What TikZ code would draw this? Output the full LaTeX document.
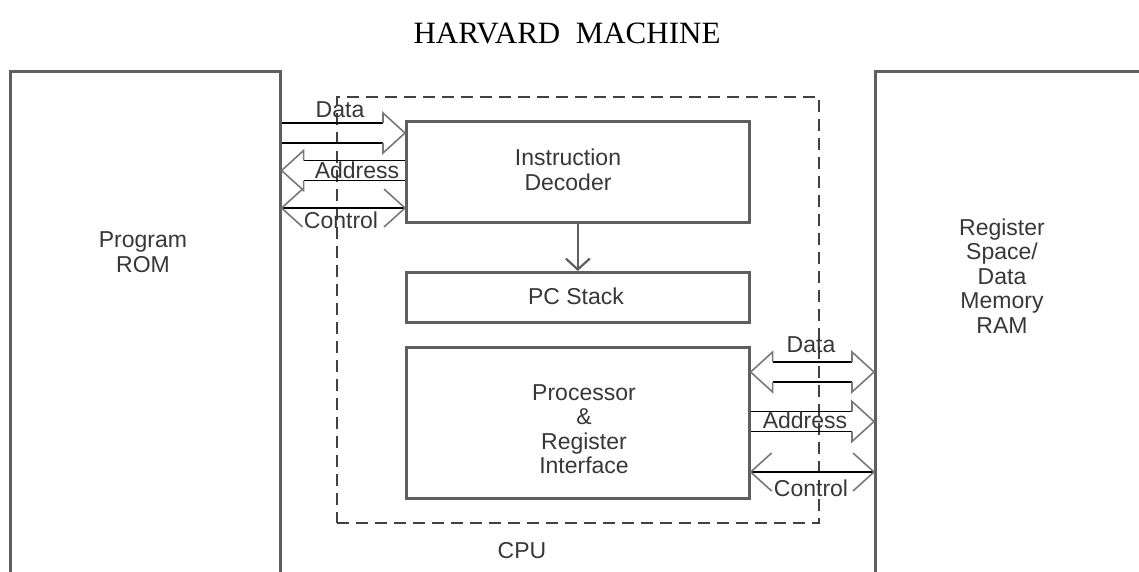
\documentclass[tikz,border=0pt]{standalone}
\usepackage{fontspec}
\setmainfont{Liberation Sans}
\newfontfamily\titlefont{Liberation Serif}
\usetikzlibrary{calc,arrows.meta}

\definecolor{boxline}{RGB}{95,95,95}
\definecolor{headline}{RGB}{120,120,120}
\definecolor{txt}{RGB}{55,55,55}

\tikzset{
  block/.style={draw=boxline, line width=2.6pt, anchor=north west, inner sep=0pt},
  cpubox/.style={draw=black!75, line width=1.8pt, dash pattern=on 12pt off 7pt, anchor=north west, inner sep=0pt},
  lbl/.style={text=txt, align=center, inner sep=0pt, font=\fontsize{23}{24.5}\selectfont},
  shaft/.style={draw=black, line width=1.3pt},
  headln/.style={draw=headline, line width=1.6pt, line join=miter},
  flow/.style={draw=boxline, line width=2.6pt, -{Straight Barb[length=11pt,width=24pt,line width=2.2pt]}},
}

% hollow bus arrows between two named points on the same horizontal line
\newcommand\busRight[2]{%
  \draw[shaft] ($(#1)+(0,-10)$) -- ($(#2)+(-22,-10)$);
  \draw[shaft] ($(#1)+(0,10)$) -- ($(#2)+(-22,10)$);
  \draw[headln] ($(#2)+(-22,-10)$) -- ($(#2)+(-22,-20)$) -- (#2) -- ($(#2)+(-22,20)$) -- ($(#2)+(-22,10)$);
}
\newcommand\busLeft[2]{%
  \draw[shaft] ($(#1)+(22,-10)$) -- ($(#2)+(0,-10)$);
  \draw[shaft] ($(#1)+(22,10)$) -- ($(#2)+(0,10)$);
  \draw[headln] ($(#1)+(22,-10)$) -- ($(#1)+(22,-20)$) -- (#1) -- ($(#1)+(22,20)$) -- ($(#1)+(22,10)$);
}
\newcommand\busBoth[2]{%
  \draw[shaft] ($(#1)+(22,-10)$) -- ($(#2)+(-22,-10)$);
  \draw[shaft] ($(#1)+(22,10)$) -- ($(#2)+(-22,10)$);
  \draw[headln] ($(#1)+(22,-10)$) -- ($(#1)+(22,-20)$) -- (#1) -- ($(#1)+(22,20)$) -- ($(#1)+(22,10)$);
  \draw[headln] ($(#2)+(-22,-10)$) -- ($(#2)+(-22,-20)$) -- (#2) -- ($(#2)+(-22,20)$) -- ($(#2)+(-22,10)$);
}
\newcommand\ctrlBus[2]{%
  \draw[shaft] (#1) -- (#2);
  \draw[headln] ($(#1)+(21,-19)$) -- (#1) -- ($(#1)+(21,19)$);
  \draw[headln] ($(#2)+(-21,-19)$) -- (#2) -- ($(#2)+(-21,19)$);
}

\begin{document}
\begin{tikzpicture}[x=1pt,y=-1pt]
\useasboundingbox (0,0) rectangle (1139,571);

% title
\node (title) [text=black, inner sep=0pt, font=\titlefont\fontsize{31}{31}\selectfont] at (567,33) {HARVARD\ \ MACHINE};

% CPU boundary
\node (cpu) [cpubox, minimum width=482pt, minimum height=426pt] at (336,96) {};
\node (cpulbl) [lbl] at (522,551) {CPU};

% memories (open towards the page edges)
\node (rom) [block, minimum width=270pt, minimum height=540pt] at (9,70) {};
\node (ram) [block, minimum width=300pt, minimum height=540pt] at (874,70) {};
\node (romtxt) [lbl] at (143,252) {Program\\ROM};
\node (ramtxt) [lbl] at (1002,276) {Register\\Space/\\Data\\Memory\\RAM};

% CPU blocks
\node (dec)  [block, minimum width=343pt, minimum height=101pt] at (405,120) {};
\node (pcs)  [block, minimum width=343pt, minimum height=50pt]  at (405,271) {};
\node (proc) [block, minimum width=343pt, minimum height=151pt] at (405,346) {};
\node (dectxt)  [lbl] at (568,170) {Instruction\\Decoder};
\node (pcstxt)  [lbl] at (576,296) {PC Stack};
\node (proctxt) [lbl] at (584,429) {Processor\\\&\\Register\\Interface};

\draw[flow] (dec.south) -- (pcs.north);

% program side buses
\coordinate (pdL) at (rom.east |- 0,133);   \coordinate (pdR) at (dec.west |- 0,133);
\coordinate (paL) at (rom.east |- 0,170.5); \coordinate (paR) at (dec.west |- 0,170.5);
\coordinate (pcL) at (rom.east |- 0,208);   \coordinate (pcR) at (dec.west |- 0,208);
\busRight{pdL}{pdR}
\busLeft{paL}{paR}
\ctrlBus{pcL}{pcR}

% data side buses
\coordinate (ddL) at (proc.east |- 0,372);   \coordinate (ddR) at (ram.west |- 0,372);
\coordinate (daL) at (proc.east |- 0,421.5); \coordinate (daR) at (ram.west |- 0,421.5);
\coordinate (dcL) at (proc.east |- 0,472);   \coordinate (dcR) at (ram.west |- 0,472);
\busBoth{ddL}{ddR}
\busRight{daL}{daR}
\ctrlBus{dcL}{dcR}

% bus names
\node (pdata) [lbl] at (340,110) {Data};
\node (paddr) [lbl] at (357,170) {Address};
\node (pctrl) [lbl] at (341,220) {Control};
\node (ddata) [lbl] at (811,345) {Data};
\node (daddr) [lbl] at (805,420) {Address};
\node (dctrl) [lbl] at (811,488) {Control};
\end{tikzpicture}
\end{document}
